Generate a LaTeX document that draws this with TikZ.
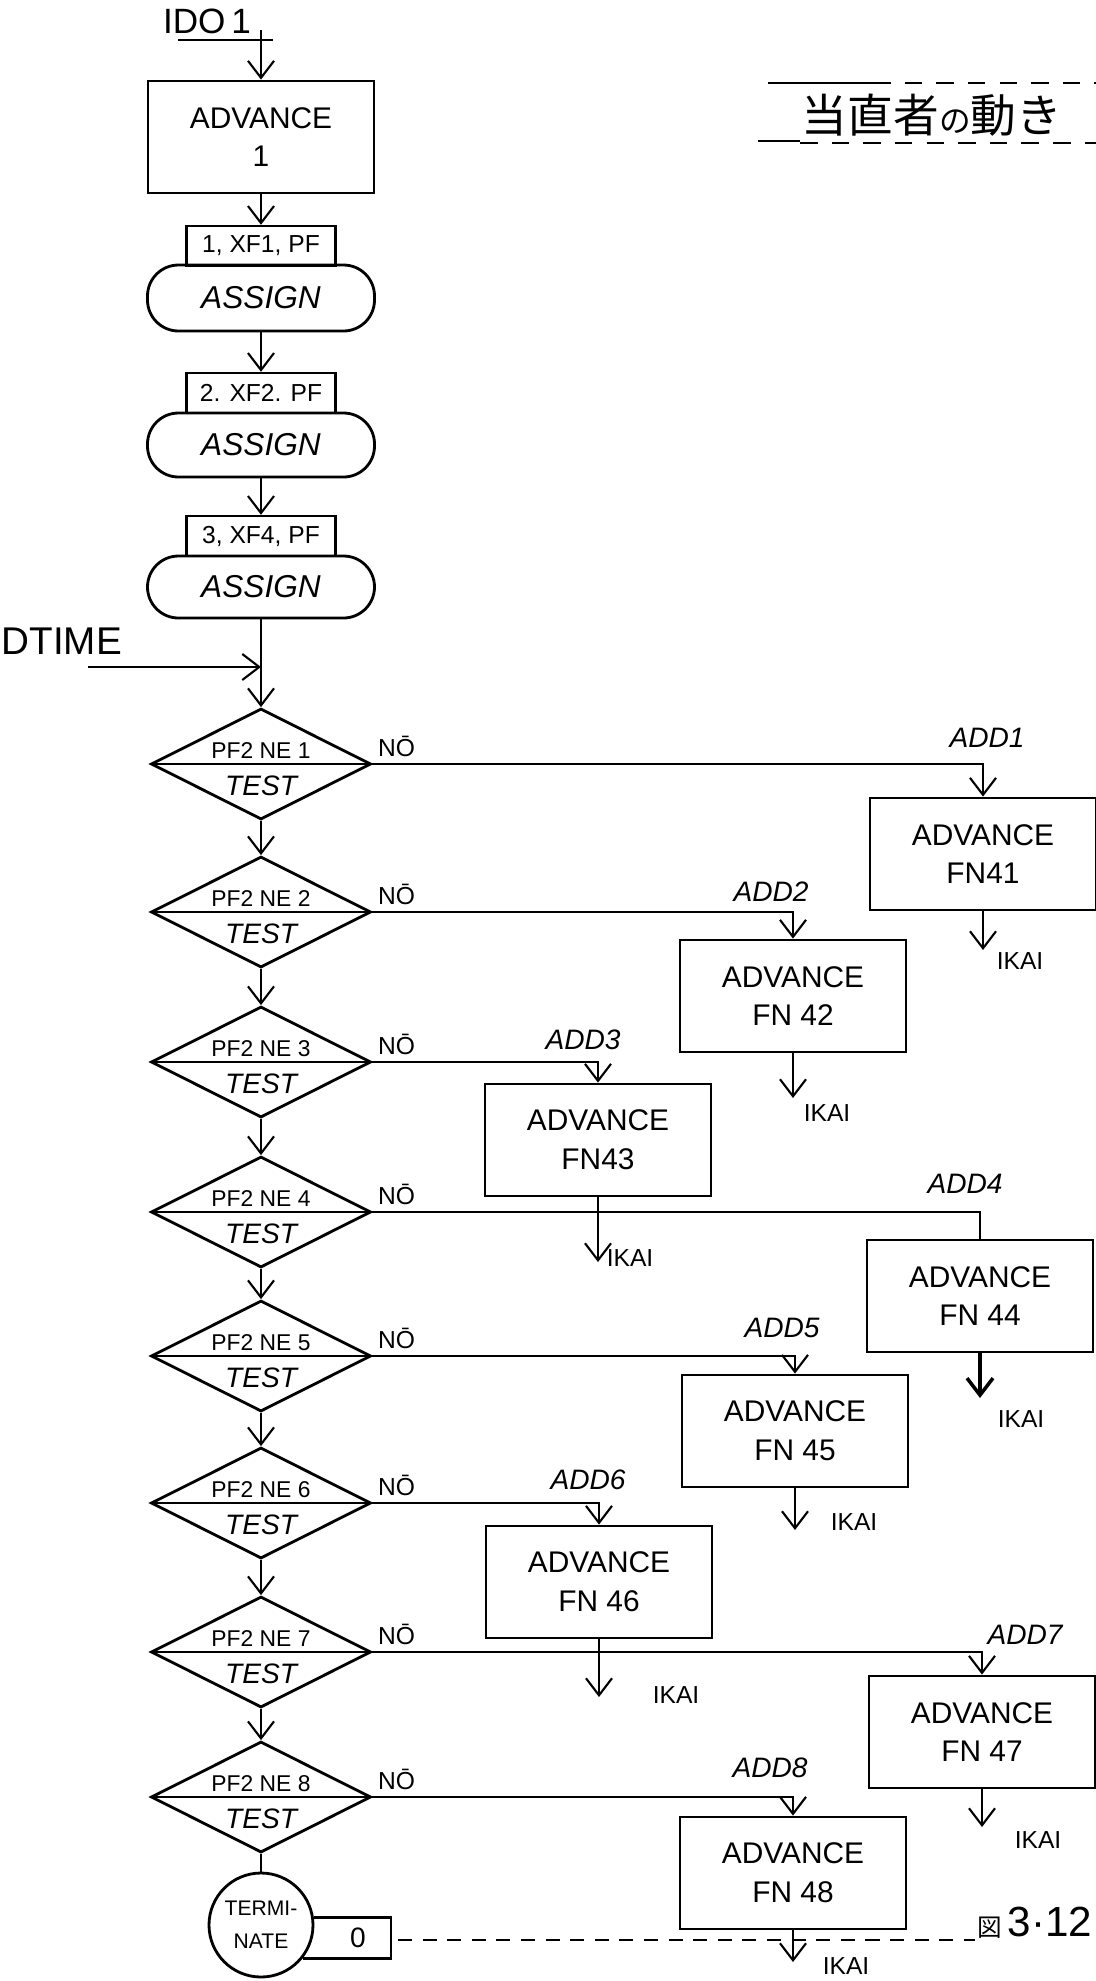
\documentclass[tikz,border=0pt]{standalone}
\usepackage{fontspec}
\setmainfont{Liberation Sans}
\newfontfamily\jp{Noto Sans CJK JP}
\usetikzlibrary{arrows.meta,shapes.geometric}

\tikzset{
  flow/.style={line width=0.6pt},
  advbox/.style={draw, line width=0.8pt, rectangle, inner sep=0pt, minimum width=22.6mm,
    minimum height=11.2mm, align=center, font=\fontsize{8.5}{11}\selectfont},
  parm/.style={draw, line width=0.7pt, inner sep=0pt, minimum width=14.9mm,
    minimum height=4mm, font=\fontsize{7}{8}\selectfont},
  assign/.style={draw, line width=0.8pt, rounded corners=3.1mm, inner sep=0pt,
    minimum width=22.7mm, minimum height=6.4mm, font=\fontsize{9}{10}\selectfont\itshape},
  test/.style={draw, line width=0.8pt, diamond, inner sep=0pt, minimum width=22mm,
    minimum height=11.1mm},
  cond/.style={font=\fontsize{6.5}{7}\selectfont, inner sep=0pt},
  testlbl/.style={font=\fontsize{8}{9}\selectfont\itshape, inner sep=0pt},
  nolbl/.style={font=\fontsize{7}{8}\selectfont, inner sep=0pt, anchor=south west},
  addlbl/.style={font=\fontsize{8}{9}\selectfont\itshape, inner sep=0pt},
  ikai/.style={font=\fontsize{7}{8}\selectfont, inner sep=0pt},
}

\begin{document}
\begin{tikzpicture}[x=0.1mm, y=-0.1mm, >={Straight Barb[length=1.7mm, width=2.6mm]}]
  \useasboundingbox (0,0) rectangle (1096,1981);

  % heading
  \node[font=\jp\fontsize{13}{14}\selectfont, inner sep=0pt] (title) at (932,115)
    {当直者{\fontsize{9}{10}\selectfont の}動き};
  \draw[line width=0.5pt] (768,83) -- (873,83);
  \draw[line width=0.4pt, dash pattern=on 5pt off 4pt] (873,83) -- (1096,83);
  \draw[line width=0.5pt] (758,141) -- (800,141);
  \draw[line width=0.4pt, dash pattern=on 5pt off 4pt] (800,143) -- (1096,143);

  % entry and assignments
  \node[font=\fontsize{10}{11}\selectfont, inner sep=0pt] (ido) at (207,21) {IDO\,1};
  \draw[flow] (178,40) -- (273,40);
  \coordinate (in) at (261,30);
  \node[advbox] (adv) at (261,137) {ADVANCE\\1};
  \draw[flow,->] (in) -- (adv);

  \node[parm] (p1) at (261,246) {1, XF1, PF};
  \node[assign, minimum height=6.6mm] (as1) at (261,298) {ASSIGN};
  \node[parm] (p2) at (261,393) {2. XF2. PF};
  \node[assign] (as2) at (261,445) {ASSIGN};
  \node[parm] (p3) at (261,536) {3, XF4, PF};
  \node[assign, minimum height=6.2mm] (as3) at (261,587) {ASSIGN};
  \draw[flow,->] (adv) -- (p1);
  \draw[flow,->] (as1) -- (p2);
  \draw[flow,->] (as2) -- (p3);

  \node[font=\fontsize{11}{12}\selectfont, inner sep=0pt, anchor=west] (dtime) at (1,641) {DTIME};
  \coordinate (dt) at (88,667);
  \draw[flow,->] (dt) -- (dt -| as3);

  % tests
  \node[test] (t1) at (261,764) {};
  \node[test] (t2) at (261,912) {};
  \node[test] (t3) at (261,1062) {};
  \node[test] (t4) at (261,1212) {};
  \node[test] (t5) at (261,1356) {};
  \node[test] (t6) at (261,1503) {};
  \node[test] (t7) at (261,1652) {};
  \node[test] (t8) at (261,1797) {};
  \draw[flow] (t1.west) -- (t1.east);
  \draw[flow] (t2.west) -- (t2.east);
  \draw[flow] (t3.west) -- (t3.east);
  \draw[flow] (t4.west) -- (t4.east);
  \draw[flow] (t5.west) -- (t5.east);
  \draw[flow] (t6.west) -- (t6.east);
  \draw[flow] (t7.west) -- (t7.east);
  \draw[flow] (t8.west) -- (t8.east);
  \node[cond] (c1) at (261,751) {PF2 NE 1};
  \node[cond] (c2) at (261,899) {PF2 NE 2};
  \node[cond] (c3) at (261,1049) {PF2 NE 3};
  \node[cond] (c4) at (261,1199) {PF2 NE 4};
  \node[cond] (c5) at (261,1343) {PF2 NE 5};
  \node[cond] (c6) at (261,1490) {PF2 NE 6};
  \node[cond] (c7) at (261,1639) {PF2 NE 7};
  \node[cond] (c8) at (261,1784) {PF2 NE 8};
  \node[testlbl] (s1) at (261,786) {TEST};
  \node[testlbl] (s2) at (261,934) {TEST};
  \node[testlbl] (s3) at (261,1084) {TEST};
  \node[testlbl] (s4) at (261,1234) {TEST};
  \node[testlbl] (s5) at (261,1378) {TEST};
  \node[testlbl] (s6) at (261,1525) {TEST};
  \node[testlbl] (s7) at (261,1674) {TEST};
  \node[testlbl] (s8) at (261,1819) {TEST};
  \node[nolbl] (n1) at ([xshift=0.5mm, yshift=0.7mm]t1.east) {NŌ};
  \node[nolbl] (n2) at ([xshift=0.5mm, yshift=0.7mm]t2.east) {NŌ};
  \node[nolbl] (n3) at ([xshift=0.5mm, yshift=0.7mm]t3.east) {NŌ};
  \node[nolbl] (n4) at ([xshift=0.5mm, yshift=0.7mm]t4.east) {NŌ};
  \node[nolbl] (n5) at ([xshift=0.5mm, yshift=0.7mm]t5.east) {NŌ};
  \node[nolbl] (n6) at ([xshift=0.5mm, yshift=0.7mm]t6.east) {NŌ};
  \node[nolbl] (n7) at ([xshift=0.5mm, yshift=0.7mm]t7.east) {NŌ};
  \node[nolbl] (n8) at ([xshift=0.5mm, yshift=0.7mm]t8.east) {NŌ};
  \draw[flow,->] (as3) -- (t1);
  \draw[flow,->] (t1) -- (t2);
  \draw[flow,->] (t2) -- (t3);
  \draw[flow,->] (t3) -- (t4);
  \draw[flow,->] (t4) -- (t5);
  \draw[flow,->] (t5) -- (t6);
  \draw[flow,->] (t6) -- (t7);
  \draw[flow,->] (t7) -- (t8);

  % branches
  \node[advbox] (a1) at (983,854) {ADVANCE\\FN41};
  \node[advbox] (a2) at (793,996) {ADVANCE\\FN 42};
  \node[advbox] (a3) at (598,1140) {ADVANCE\\FN43};
  \node[advbox] (a4) at (980,1296) {ADVANCE\\FN 44};
  \node[advbox] (a5) at (795,1431) {ADVANCE\\FN 45};
  \node[advbox] (a6) at (599,1582) {ADVANCE\\FN 46};
  \node[advbox] (a7) at (982,1732) {ADVANCE\\FN 47};
  \node[advbox] (a8) at (793,1873) {ADVANCE\\FN 48};
  \draw[flow,->] (t1.east) -| (a1);
  \draw[flow,->] (t2.east) -| (a2);
  \draw[flow,->] (t3.east) -| (a3);
  \draw[flow] (t4.east) -| (a4);
  \draw[flow,->] (t5.east) -| (a5);
  \draw[flow,->] (t6.east) -| (a6);
  \draw[flow,->] (t7.east) -| (a7);
  \draw[flow,->] (t8.east) -| (a8);
  \node[addlbl] (d1) at (987,738) {ADD1};
  \node[addlbl] (d2) at (771,892) {ADD2};
  \node[addlbl] (d3) at (583,1040) {ADD3};
  \node[addlbl] (d4) at (965,1184) {ADD4};
  \node[addlbl] (d5) at (782,1328) {ADD5};
  \node[addlbl] (d6) at (588,1480) {ADD6};
  \node[addlbl] (d7) at (1025,1635) {ADD7};
  \node[addlbl] (d8) at (770,1768) {ADD8};

  % exits
  \coordinate (k1) at (983,950);
  \coordinate (k2) at (793,1098);
  \coordinate (k3) at (598,1262);
  \coordinate (k4) at (980,1398);
  \coordinate (k5) at (795,1530);
  \coordinate (k6) at (599,1697);
  \coordinate (k7) at (982,1827);
  \coordinate (k8) at (793,1962);
  \draw[flow,->] (a1) -- (k1);
  \draw[flow,->] (a2) -- (k2);
  \draw[flow,->] (a3) -- (k3);
  \draw[line width=1pt,->] (a4) -- (k4);
  \draw[flow,->] (a5) -- (k5);
  \draw[flow,->] (a6) -- (k6);
  \draw[flow,->] (a7) -- (k7);
  \draw[flow,->] (a8) -- (k8);
  \node[ikai] (i1) at (1020,961) {IKAI};
  \node[ikai] (i2) at (827,1113) {IKAI};
  \node[ikai] (i3) at (630,1258) {IKAI};
  \node[ikai] (i4) at (1021,1419) {IKAI};
  \node[ikai] (i5) at (854,1522) {IKAI};
  \node[ikai] (i6) at (676,1695) {IKAI};
  \node[ikai] (i7) at (1038,1840) {IKAI};
  \node[ikai] (i8) at (846,1966) {IKAI};

  % end of the chain
  \node[draw, circle, line width=0.8pt, minimum size=10.4mm, inner sep=0pt, align=center,
    font=\fontsize{6}{9.5}\selectfont] (term) at (261,1925) {TERMI-\\NATE};
  \draw[flow] (t8) -- (term);
  \draw[line width=0.7pt] (term.8) -- ++(77,0) |- (term.-39);
  \node[font=\fontsize{8}{9}\selectfont, inner sep=0pt] (zero) at (358,1938) {0};
  \draw[line width=0.4pt, dash pattern=on 4pt off 3pt] (398,1940) -- (975,1940);
  \node[anchor=east, inner sep=0pt] (fig) at (1093,1923)
    {{\jp\fontsize{7}{8}\selectfont 図}\,{\fontsize{12}{13}\selectfont 3·12}};
\end{tikzpicture}
\end{document}
